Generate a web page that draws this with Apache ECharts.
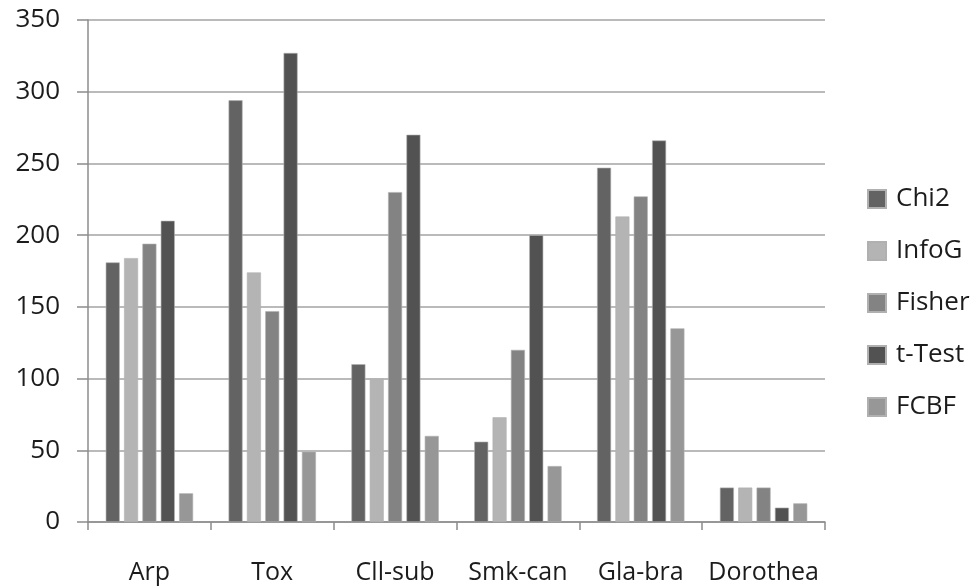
<!DOCTYPE html>
<html><head><meta charset="utf-8">
<script src="https://cdn.jsdelivr.net/npm/echarts@6/dist/echarts.min.js"></script>
<style>html,body{margin:0;padding:0;background:#fff}#c{width:973px;height:588px}</style>
</head><body><div id="c"></div>
<script>
const categories = ['Arp','Tox','Cll-sub','Smk-can','Gla-bra','Dorothea'];
const seriesNames = ['Chi2','InfoG','Fisher','t-Test','FCBF'];
const chi2   = [181, 294, 110, 56, 247, 24];
const infoG  = [184, 174, 100, 73, 213, 24];
const fisher = [194, 147, 230, 120, 227, 24];
const tTest  = [210, 327, 270, 200, 266, 10];
const fcbf   = [20, 49, 60, 39, 135, 13];
const colors = ['#636363','#b4b4b4','#838383','#525252','#979797'];
const values = [chi2, infoG, fisher, tTest, fcbf];
const font = '"Open Sans", "Liberation Sans", sans-serif';
const txt = '#1c1c1c';
const chart = echarts.init(document.getElementById('c'));
chart.setOption({
  animation: false,
  textStyle: {fontFamily: font},
  grid: {left: 88, right: 148, top: 20, bottom: 66},
  legend: {
    orient: 'vertical', left: 862, top: 181,
    itemWidth: 18, itemHeight: 18, itemGap: 26,
    icon: 'rect',
    textStyle: {fontSize: 26, color: txt, fontFamily: font, padding: [0,0,0,5]},
    data: seriesNames
  },
  xAxis: {
    type: 'category', data: categories,
    axisLine: {lineStyle: {color: '#8c8c8c', width: 1.5}},
    axisTick: {show: true, length: 8, lineStyle: {color: '#8c8c8c', width: 1.5}},
    axisLabel: {fontSize: 25, color: txt, margin: 38, fontFamily: font, interval: 0, hideOverlap: false}
  },
  yAxis: {
    type: 'value', min: 0, max: 350, interval: 50,
    axisLine: {show: true, lineStyle: {color: '#8c8c8c', width: 1.5}},
    axisTick: {show: true, length: 11, lineStyle: {color: '#8c8c8c', width: 1.5}},
    axisLabel: {fontSize: 26, color: txt, margin: 28, fontFamily: font},
    splitLine: {lineStyle: {color: '#a3a3a3', width: 1.5}}
  },
  series: seriesNames.map((n, i) => ({
    name: n, type: 'bar', data: values[i],
    barWidth: 14, barGap: '31%',
    itemStyle: {color: colors[i], borderColor: '#b0b0b0', borderWidth: 0.6}
  }))
});
</script></body></html>
